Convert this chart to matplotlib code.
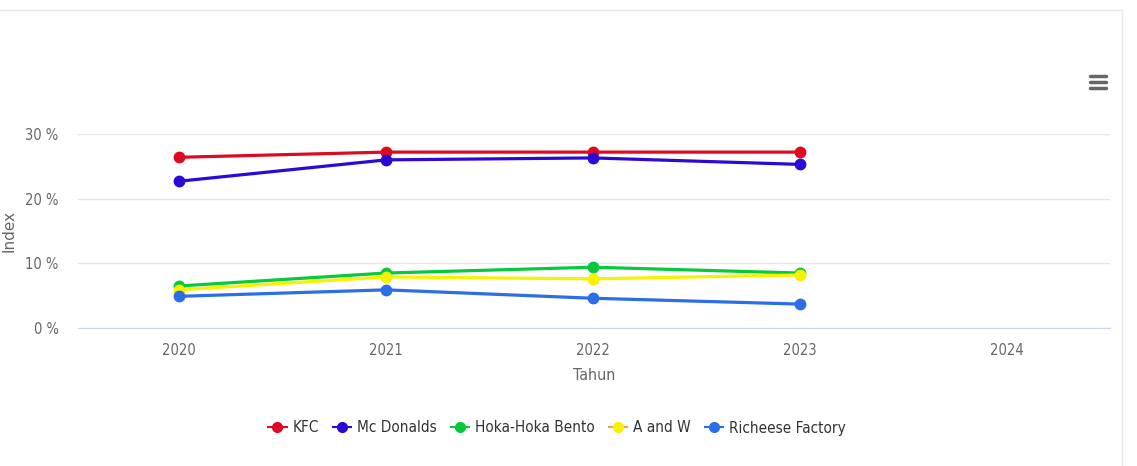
import matplotlib.pyplot as plt
from matplotlib.lines import Line2D
import numpy as np

plt.rcParams['font.family'] = ['DejaVu Sans']
plt.rcParams['font.stretch'] = 'condensed'

# Data
years = ['2020', '2021', '2022', '2023', '2024']
kfc = [26.4, 27.2, 27.2, 27.2]
mcdonalds = [22.7, 26.0, 26.3, 25.3]
hoka = [6.5, 8.5, 9.4, 8.5]
a_and_w = [5.9, 7.9, 7.6, 8.2]
richeese = [4.9, 5.9, 4.6, 3.7]

series = [
    ('KFC', kfc, '#dd0a22'),
    ('Mc Donalds', mcdonalds, '#2b0ad6'),
    ('Hoka-Hoka Bento', hoka, '#07c93c'),
    ('A and W', a_and_w, '#f6f200'),
    ('Richeese Factory', richeese, '#2b6ee8'),
]

fig = plt.figure(figsize=(11.37, 4.66), dpi=100)
ax = fig.add_axes([78 / 1137, 1 - 328 / 466, (1110 - 78) / 1137, (328 - 134) / 466])

x = np.arange(len(years))
for name, vals, color in series:
    ax.plot(x[:len(vals)], vals, color=color, lw=2.3, marker='o', markersize=7.5,
            label=name, clip_on=False, zorder=3)

ax.set_xlim(-0.49, 4.5)
ax.set_ylim(0, 30)
ax.set_xticks(x)
ax.set_xticklabels(years)
ax.set_yticks([0, 10, 20, 30])
ax.set_yticklabels(['0 %', '10 %', '20 %', '30 %'])
ax.tick_params(axis='both', length=0, labelcolor='#666666', labelsize=10.5)
ax.tick_params(axis='x', pad=11)
ax.tick_params(axis='y', pad=14)
ax.grid(axis='y', color='#e6e6e6', lw=1)
ax.set_axisbelow(True)
for side in ['top', 'right', 'left']:
    ax.spines[side].set_visible(False)
ax.spines['bottom'].set_color('#ccd6eb')

ax.set_xlabel('Tahun', color='#666666', fontsize=11.5)
ax.xaxis.set_label_coords(0.5, -(368 - 328) / 194, transform=ax.transAxes)
ax.set_ylabel('Index', color='#666666', fontsize=11, family='DejaVu Sans', stretch='normal')
ax.yaxis.set_label_coords((17 - 78) / 1032, 0.5)

# Legend
handles = [Line2D([0], [0], color=c if c != '#f6f200' else '#f0a060', lw=1.5, marker='o',
                  markersize=7, markerfacecolor=c, markeredgecolor=c) for _, _, c in series]
leg = fig.legend(handles, [s[0] for s in series], loc='center',
                 bbox_to_anchor=(557 / 1137, 1 - 428 / 466), ncol=5, frameon=False, fontsize=11,
                 handlelength=1.2, columnspacing=0.9, handletextpad=0.4, labelcolor='#333333')

# Menu icon
for yy in [76, 82, 88]:
    fig.add_artist(Line2D([1090 / 1137, 1106 / 1137], [1 - yy / 466] * 2, color='#666666', lw=2.5,
                          solid_capstyle='round'))

# Page frame lines
fig.add_artist(Line2D([0, 1122 / 1137], [1 - 10 / 466] * 2, color='#e8e8e8', lw=1))
fig.add_artist(Line2D([1122 / 1137] * 2, [0, 1 - 10 / 466], color='#e8e8e8', lw=1))

plt.savefig('out.png', dpi=100)
